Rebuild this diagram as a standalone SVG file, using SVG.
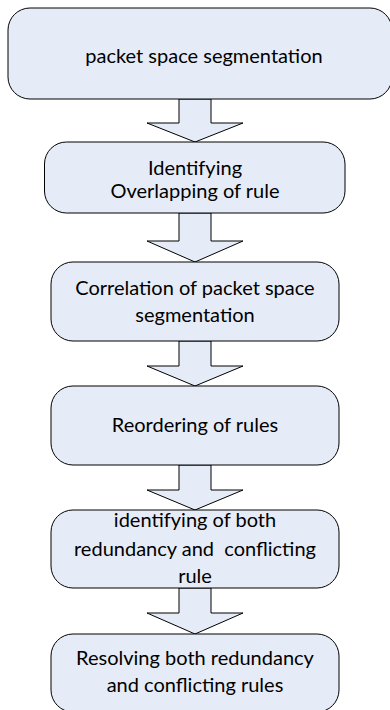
<svg xmlns="http://www.w3.org/2000/svg" width="390" height="710" viewBox="0 0 390 710">
<style>
.box{fill:#e6ecf7;stroke:#000;stroke-width:1}
.arr{fill:#e6ecf7;stroke:#000;stroke-width:1;stroke-linejoin:miter}
text{font-family:Lato,"Open Sans","Liberation Sans",sans-serif;font-size:20px;fill:#000;text-anchor:middle}
</style>
<rect width="390" height="710" fill="#fff"/>
<g id="connectors">
<polygon class="arr" points="179,99 211,99 211,123 243,123 195,142 147,123 179,123"/>
<polygon class="arr" points="179,213 211,213 211,241 243,241 195,262 147,241 179,241"/>
<polygon class="arr" points="179,341 211,341 211,366 243,366 195,386 147,366 179,366"/>
<polygon class="arr" points="179,465 211,465 211,490 243,490 195,510 147,490 179,490"/>
<polygon class="arr" points="179,588 211,588 211,613 243,613 195,634 147,613 179,613"/>
</g>
<g id="n1">
<rect class="box" x="8" y="8" width="384" height="91" rx="22"/>
<text x="204" y="63">packet space segmentation</text>
</g>
<g id="n2">
<rect class="box" x="44.5" y="142" width="300.5" height="71" rx="22"/>
<text x="195" y="175">Identifying</text>
<text x="195" y="198">Overlapping of rule</text>
</g>
<g id="n3">
<rect class="box" x="51" y="262" width="288" height="79" rx="22"/>
<text x="195" y="295">Correlation of packet space</text>
<text x="195" y="322">segmentation</text>
</g>
<g id="n4">
<rect class="box" x="51" y="386" width="288" height="79" rx="22"/>
<text x="195" y="432">Reordering of rules</text>
</g>
<g id="n5">
<rect class="box" x="51" y="510" width="288" height="78" rx="22"/>
<text x="195" y="527">identifying of both</text>
<text x="195" y="556" xml:space="preserve">redundancy and  conflicting</text>
<text x="195" y="583">rule</text>
</g>
<g id="n6">
<rect class="box" x="51" y="634" width="288" height="78" rx="22"/>
<text x="195" y="665">Resolving both redundancy</text>
<text x="195" y="692">and conflicting rules</text>
</g>
</svg>
